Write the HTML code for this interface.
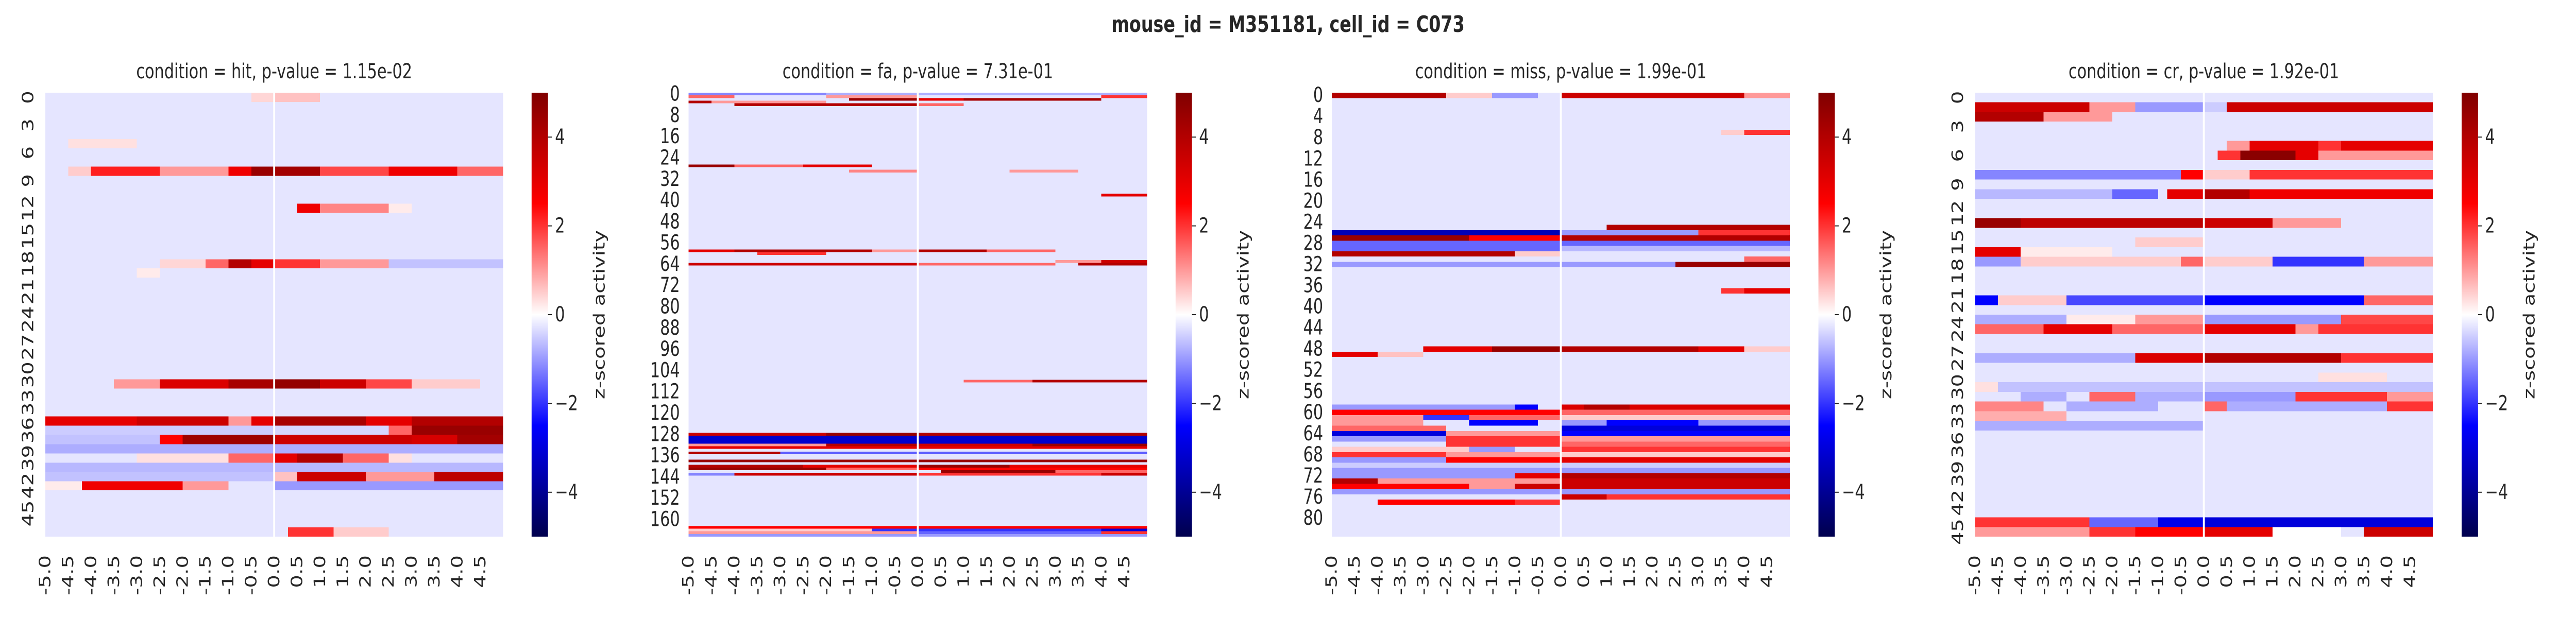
<!DOCTYPE html>
<html><head><meta charset="utf-8">
<style>
html,body{margin:0;padding:0;background:#fff;width:100%;height:100%;overflow:hidden;}
svg{display:block;position:absolute;left:0;top:0;width:100vw;height:100vh;font-family:"DejaVu Sans","Liberation Sans",sans-serif;}
</style></head>
<body>
<svg id="fig" viewBox="0 0 6600 1200" preserveAspectRatio="none" xmlns="http://www.w3.org/2000/svg" overflow="hidden">
<text x="3300" y="62" text-anchor="middle" font-size="44" font-weight="bold" fill="#262626">mouse_id = M351181, cell_id = C073</text>
</svg>
<script>
// ---- data ----
const timeBins = []; // -5.0 .. 4.9 in steps of 0.1 (bin labels)
for (let i = 0; i < 100; i++) timeBins.push(Math.round((-5 + i * 0.1) * 10) / 10);
const xTickLabels = ["-5.0","-4.5","-4.0","-3.5","-3.0","-2.5","-2.0","-1.5","-1.0","-0.5","0.0","0.5","1.0","1.5","2.0","2.5","3.0","3.5","4.0","4.5"];
const cbarTicks = [4, 2, 0, -2, -4];
const panelTitles = ["condition = hit, p-value = 1.15e-02","condition = fa, p-value = 7.31e-01","condition = miss, p-value = 1.99e-01","condition = cr, p-value = 1.92e-01"];
const panelRowCounts = [48, 167, 84, 46];
const panelYTickStep = [3, 8, 4, 3];
const baselineValue = -0.25;

// segments: [row, tStart, tEnd, z-value]
const hitSegments = [
 [0,-0.5,0,0.4],[0,0,1,0.6],
 [5,-4.5,-3,0.3],
 [8,-4.5,-4,0.5],[8,-4,-2.5,2.2],[8,-2.5,-1,1],[8,-1,-0.5,2.8],[8,-0.5,0,4.5],[8,0,1,4.3],[8,1,2.5,1.8],[8,2.5,4,2.8],[8,4,5,1.5],
 [12,0.5,1,2.8],[12,1,2.5,1.2],[12,2.5,3,0.2],
 [18,-2.5,-1.5,0.4],[18,-1.5,-1,1.5],[18,-1,-0.5,4],[18,-0.5,0,3],[18,0,1,2],[18,1,2.5,1],[18,2.5,5,-0.6],
 [19,-3,-2.5,0.2],
 [31,-3.5,-2.5,1],[31,-2.5,-1,3.2],[31,-1,0,4.2],[31,0,1,4.6],[31,1,2,3.5],[31,2,3,1.8],[31,3,4.5,0.5],
 [35,-5,-3,3],[35,-3,-1,3.5],[35,-1,-0.5,1],[35,-0.5,0,3],[35,0,2,4.2],[35,2,3,3],[35,3,5,4],
 [36,-5,0,-0.5],[36,0,2.5,-0.4],[36,2.5,3,1.5],[36,3,5,4.5],
 [37,-5,-2.5,-0.6],[37,-2.5,-2,2.5],[37,-2,0,4.4],[37,0,3,3.5],[37,3,4,3.3],[37,4,5,4.3],
 [38,-5,5,-0.8],
 [39,-3,-1,0.3],[39,-1,0,1.5],[39,0,0.5,3],[39,0.5,1.5,4],[39,1.5,2.5,1.5],[39,2.5,3,0.3],
 [40,-5,5,-0.7],
 [41,-5,0,-0.6],[41,0,0.5,0.6],[41,0.5,2,3.5],[41,2,3.5,1],[41,3.5,5,3.8],
 [42,-5,-4.2,0.2],[42,-4.2,-2,2.8],[42,-2,-1,1],[42,0,5,-1],
 [47,0.3,1.3,2],[47,1.3,2.5,0.5]
];
const faSegments = [
 [0,-5,-2,-1.2],[0,-2,5,-0.8],
 [1,-5,-4,1.5],[1,-2,0,1],[1,4,5,2],
 [2,-1.5,0,4.5],[2,0,1,3],[2,1,4,4.2],
 [3,-5,-4.5,4],[3,-4.5,-2,1],
 [4,-4,0,4],[4,0,1,1.5],
 [27,-5,-4,4.5],[27,-4,-2.5,1.5],[27,-2.5,-1,3],
 [29,-1.5,0,1.2],[29,2,3.5,1],
 [38,4,5,3],
 [59,-5,-4,3],[59,-4,-1,4],[59,-1,0,1],[59,0,1.5,4],[59,1.5,3,1.5],
 [60,-3.5,-2,2],
 [63,3,4,1],[63,4,5,3.5],
 [64,-5,0,3.5],[64,0,3,1.5],[64,3.5,5,4],
 [108,1,2.5,1.5],[108,2.5,5,4],
 [128,-5,-2,3.5],[128,-2,0,4.5],[128,0,5,4],
 [129,-5,5,-3.2],[130,-5,5,-3.2],[131,-5,5,-3.2],
 [132,-5,-2,1],[132,-2,0,4],[132,0,2.5,3.5],[132,2.5,5,4.5],
 [133,-5,5,3],
 [135,-5,-3,4],[135,-3,5,-1.6],
 [138,-5,5,4.5],
 [140,-5,-2.5,4],[140,-2.5,0,3],[140,0,2,4.5],[140,2,5,3],
 [141,-5,-2,4.5],[141,-2,0,1.5],[141,0,5,2.5],
 [142,0.5,3,4.5],[142,3,5,1.5],
 [143,-5,-4,-1.2],[143,-4,0,3.5],[143,0,4,2],[143,4,5,3.5],
 [163,-5,0,2.5],[163,0,5,2.5],
 [164,-5,-1,0.5],[164,-1,4,-2],[164,4,5,-3],
 [165,-5,0,1],[165,0,4,-1.5],[165,4,5,2],
 [166,-5,5,-1]
];
const missSegments = [
 [0,-5,-2.5,4],[0,-2.5,-1.5,0.5],[0,-1.5,-0.5,-1],[0,0,4,3.5],[0,4,5,1],
 [7,3.5,4,0.5],[7,4,5,2],
 [25,1,3,4],[25,3,5,4],
 [26,-5,0,-3.5],[26,0,3,-1],[26,3,5,2],
 [27,-5,-2,4.5],[27,-2,0,2.5],[27,0,5,4],
 [28,-5,5,-1.5],
 [29,-5,0,-1.5],[29,0,5,-0.7],
 [30,-5,-1,4],[30,-1,0,0.5],
 [31,4,5,1.5],
 [32,-5,2.5,-1],[32,2.5,5,4.5],
 [37,3.5,4,2],[37,4,5,3],
 [48,-3,-1.5,3],[48,-1.5,0,4.5],[48,0,3,4],[48,3,4,3],[48,4,5,0.5],
 [49,-5,-4,3],[49,-4,-3,0.6],
 [59,-5,-1,-1],[59,-1,-0.5,-2.5],[59,0,0.5,3.2],[59,0.5,1.5,4],[59,1.5,5,3.2],
 [60,-5,0,2.5],[60,0,5,1.5],
 [61,-5,-3,1],[61,-3,-2,-2],[61,-2,0,1.5],[61,0,5,0.5],
 [62,-5,-3,1],[62,-2,-0.5,-2.5],[62,0,1,-1],[62,1,3,-2.5],[62,3,5,-1],
 [63,-5,-2.5,1.5],[63,0,5,-3],
 [64,-5,-2.5,-3],[64,-2.5,0,1],[64,0,5,-2.5],
 [65,-5,-2.5,-1],[65,-2.5,0,2],[65,0,5,1],
 [66,-2.5,0,2],[66,0,5,1.5],
 [67,-5,-2,0.5],[67,-2,-1,-1],[67,0,5,2],
 [68,-5,-2.5,2],[68,-2.5,0,1],[68,0,5,0.5],
 [69,-5,-2.5,-1],[69,-2.5,0,2.5],[69,0,5,3],
 [70,-5,5,-0.5],
 [71,-5,5,-1],
 [72,-5,-1,-1],[72,-1,0,3],[72,0,5,4],
 [73,-5,-4,4],[73,-4,0,1],[73,0,5,3.5],
 [74,-5,-2,2.5],[74,-2,-1,1],[74,-1,0,3.5],[74,0,5,3.5],
 [75,-5,5,-1],
 [76,0,1,3.5],[76,1,5,2],
 [77,-4,-1,2.5],[77,-1,0,2]
];
const crSegments = [
 [1,-5,-2.5,3.5],[1,-2.5,-1.5,1],[1,-1.5,0,-1],[1,0,0.5,-0.5],[1,0.5,5,3.5],
 [2,-5,-3.5,4],[2,-3.5,-2,1],
 [5,0.5,1,1],[5,1,2.5,3],[5,2.5,3,2],[5,3,5,3],
 [6,0.3,0.8,2],[6,0.8,2,4.8],[6,2,2.5,3],[6,2.5,5,1],
 [8,-5,-0.5,-1.2],[8,-0.5,0,2.5],[8,0,1,0.5],[8,1,5,2],
 [10,-5,-2,-0.7],[10,-2,-1,-1.5],[10,-0.8,0,3],[10,0,1,4],[10,1,5,2.8],
 [13,-5,-4,4.5],[13,-4,0,3.8],[13,0,1.5,3.5],[13,1.5,3,1],
 [15,-1.5,0,0.5],
 [16,-5,-4,3],[16,-4,-2,0.2],
 [17,-5,-4,-1],[17,-4,-0.5,0.5],[17,-0.5,0,1.5],[17,0,1.5,0.5],[17,1.5,3.5,-2],[17,3.5,5,1],
 [21,-5,-4.5,-2.5],[21,-4.5,-3,0.5],[21,-3,0,-1.8],[21,0,3.5,-2.5],[21,3.5,5,1.5],
 [23,-5,-3,-0.8],[23,-3,-1.5,0.2],[23,-1.5,0,1],[23,0,3,-1],[23,3,5,1.8],
 [24,-5,-3.5,1.5],[24,-3.5,-2,3],[24,-2,0,1.5],[24,0,2,3],[24,2,2.5,1],[24,2.5,5,2],
 [27,-5,-1.5,-0.8],[27,-1.5,0,3.2],[27,0,3,4],[27,3,5,2],
 [29,2.5,4,0.3],
 [30,-5,-4.5,0.3],[30,-4.5,5,-0.6],
 [31,-4,-3,-0.8],[31,-2.5,-1.5,1.5],[31,-1.5,0,-0.8],[31,0,2,-1],[31,2,4,2],[31,4,5,1],
 [32,-5,-3.5,1.2],[32,-3,-1,-0.8],[32,0,0.5,1.5],[32,0.5,4,-0.8],[32,4,5,2],
 [33,-5,-3,0.8],
 [34,-5,0,-0.8],
 [44,-5,-2.5,2],[44,-2.5,-1,-1.5],[44,-1,0,-2.8],[44,0,5,-3],
 [45,-5,-2.5,1],[45,-2.5,-1.5,2],[45,-1.5,0,2.5],[45,0,1.5,3],[45,1.5,3,0],[45,3.5,5,3.5]
];
const allSegments = [hitSegments, faSegments, missSegments, crSegments];

// ---- layout ----
const panelX0 = [116, 1764, 3412, 5060];
const panelX1 = [1289, 2939, 4586, 6233];
const cbarX = [1362, 3012, 4659, 6307];
const Y0 = 180, Y1 = 1042, CBW = 42, VMIN = -5, VMAX = 5;
const NS = "http://www.w3.org/2000/svg";
const svg = document.getElementById("fig");

function seismic(v) {
  let t = (v - VMIN) / (VMAX - VMIN); t = Math.max(0, Math.min(1, t));
  const st = [[0,0,0,76.5],[0.25,0,0,255],[0.5,255,255,255],[0.75,255,0,0],[1,127.5,0,0]];
  for (let i = 0; i < st.length - 1; i++) {
    if (t <= st[i+1][0]) {
      const f = (t - st[i][0]) / (st[i+1][0] - st[i][0]);
      const c = [1,2,3].map(k => Math.round(st[i][k] + f * (st[i+1][k] - st[i][k])));
      return `rgb(${c[0]},${c[1]},${c[2]})`;
    }
  }
  return "rgb(127,0,0)";
}
function mk(tag, attrs, parent) {
  const e = document.createElementNS(NS, tag);
  for (const k in attrs) e.setAttribute(k, attrs[k]);
  (parent || svg).appendChild(e);
  return e;
}

const defs = mk("defs", {});
const grad = mk("linearGradient", {id: "cmap", x1: "0", y1: "1", x2: "0", y2: "0"}, defs);
for (let i = 0; i <= 20; i++) {
  mk("stop", {offset: (i / 20), "stop-color": seismic(VMIN + (VMAX - VMIN) * i / 20)}, grad);
}

for (let p = 0; p < 4; p++) {
  const g = mk("g", {});
  
  
  const x0 = panelX0[p], x1 = panelX1[p], N = panelRowCounts[p];
  const xScale = t => x0 + (t - (-5)) / 10 * (x1 - x0);
  const rowH = (Y1 - Y0) / N;
  const yScale = r => Y0 + r * rowH;

  const M = [];
  for (let r = 0; r < N; r++) M.push(timeBins.map(() => baselineValue));
  for (const s of allSegments[p]) {
    const [r, a, b, v] = s;
    if (r >= N) continue;
    for (let c = 0; c < timeBins.length; c++) {
      if (timeBins[c] >= a - 1e-9 && timeBins[c] < b - 1e-9) M[r][c] = v;
    }
  }
  const cellsG = mk("g", {"shape-rendering": "crispEdges"}, g);
  
  
  for (let r = 0; r < N; r++) {
    let c = 0;
    while (c < timeBins.length) {
      let e = c;
      while (e + 1 < timeBins.length && M[r][e+1] === M[r][c]) e++;
      const xa = xScale(timeBins[c]);
      const xb = Math.min(x1, xScale(timeBins[e] + 0.1) + 0.5);
      const cell = mk("rect", {x: xa.toFixed(2), y: yScale(r).toFixed(2), width: (xb - xa).toFixed(2), height: Math.min(rowH + 0.5, Y1 - yScale(r)).toFixed(2), fill: seismic(M[r][c])}, cellsG);
      
      
      c = e + 1;
    }
  }
  const zl = mk("line", {x1: xScale(0), x2: xScale(0), y1: Y0, y2: Y1, stroke: "#fff", "stroke-width": 5}, g);
  
  

  const tt = mk("text", {x: (x0 + x1) / 2, y: 152, "text-anchor": "middle", "font-size": 40, fill: "#262626"}, g);
  tt.textContent = panelTitles[p];
  
  

  for (let i = 0; i < xTickLabels.length; i++) {
    const xv = xScale(parseFloat(xTickLabels[i]));
    const tx = mk("text", {x: 0, y: 0, "text-anchor": "end", "dominant-baseline": "central", "font-size": 40, fill: "#262626",
      transform: `translate(${xv.toFixed(1)},1078) rotate(-90)`}, g);
    tx.textContent = xTickLabels[i];
    
    
  }
  const step = panelYTickStep[p];
  const rotated = (step === 3);
  for (let r = 0; r < N; r += step) {
    const yc = yScale(r + 0.5);
    let ty;
    if (rotated) {
      ty = mk("text", {x: 0, y: 0, "text-anchor": "middle", "dominant-baseline": "central", "font-size": 40, fill: "#262626",
        transform: `translate(${x0 - 44},${yc.toFixed(1)}) rotate(-90)`}, g);
    } else {
      ty = mk("text", {x: x0 - 22, y: yc.toFixed(1), "text-anchor": "end", "dominant-baseline": "central", "font-size": 40, fill: "#262626"}, g);
    }
    ty.textContent = String(r);
    
    
  }

  const cb = mk("rect", {x: cbarX[p], y: Y0, width: CBW, height: Y1 - Y0, fill: "url(#cmap)"}, g);
  
  
  const cbScale = v => Y0 + (VMAX - v) / (VMAX - VMIN) * (Y1 - Y0);
  for (const v of cbarTicks) {
    const yy = cbScale(v);
    const tk = mk("line", {x1: cbarX[p] + CBW, x2: cbarX[p] + CBW + 10, y1: yy, y2: yy, stroke: "#262626", "stroke-width": 2}, g);
    
    
    const tl = mk("text", {x: cbarX[p] + CBW + 18, y: yy, "dominant-baseline": "central", "font-size": 40, fill: "#262626"}, g);
    tl.textContent = v < 0 ? "\u2212" + Math.abs(v) : String(v);
    
    
  }
  const cl = mk("text", {x: 0, y: 0, "text-anchor": "middle", "dominant-baseline": "central", "font-size": 40, fill: "#262626",
    transform: `translate(${cbarX[p] + 174},${(Y0 + Y1) / 2}) rotate(-90)`}, g);
  cl.textContent = "z-scored activity";
  
  
}
</script>
</body></html>
